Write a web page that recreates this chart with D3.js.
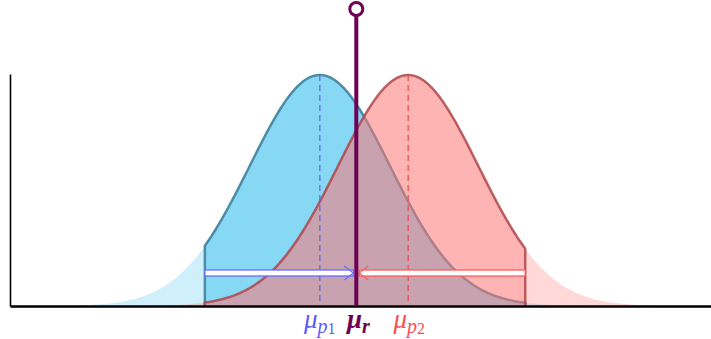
<!DOCTYPE html>
<html>
<head>
<meta charset="utf-8">
<script src="https://cdn.jsdelivr.net/npm/d3@7"></script>
<style>
body { margin: 0; background: #fff; }
svg { display: block; }
.lbl { font-family: "Liberation Serif", "DejaVu Serif", serif; font-style: italic; font-size: 27px; }
</style>
</head>
<body>
<svg id="chart" width="711" height="339"></svg>
<script>
// distributions shown: two proposals and the reference point
let names = ["p1", "p2"];
let means = [4.42, 5.68];
let sigmas = [1.0, 1.0];
let refMean = 4.94;
let windowLimits = [2.78, 7.35];   // clipped region drawn in full colour
let domainX = [0, 10];

let colors = {
	fill: ["rgb(135,216,245)", "rgb(255,116,116)"],
	stroke: ["rgb(78,140,166)", "rgb(175,70,75)"],
	dash: ["#5b63f2", "#e84a4a"],
	label: ["#5a5aff", "#ff4d4d"],
	ref: "#6e0055"
};

let svg = d3.select("#chart");

let x = d3.scaleLinear().domain(domainX).range([10, 711]);
let y = d3.scaleLinear().domain([0, 1]).range([306, 75]);

function density(mu, s) {
	return function(v) { return Math.exp(-(v - mu) * (v - mu) / (2 * s * s)); };
}

function curvePoints(i, a, b) {
	let f = density(means[i], sigmas[i]);
	let pts = d3.range(a, b, 0.02).map(function(v) { return [v, f(v)]; });
	pts.push([b, f(b)]);
	return pts;
}

let area = d3.area()
	.x(function(d) { return x(d[0]); })
	.y0(y(0))
	.y1(function(d) { return y(d[1]); });

// outline: vertical edge, curve, vertical edge
function outline(pts) {
	let p = [[pts[0][0], 0]].concat(pts).concat([[pts[pts.length - 1][0], 0]]);
	return d3.line().x(function(d) { return x(d[0]); }).y(function(d) { return y(d[1]); })(p);
}

// faint full tails
names.forEach(function(n, i) {
	svg.append("path")
		.attr("d", area(curvePoints(i, domainX[0], domainX[1])))
		.attr("fill", colors.fill[i])
		.attr("opacity", i == 0 ? 0.4 : 0.28);
});

// cover tails inside window with white so the strong areas look right
svg.append("rect")
	.attr("x", x(windowLimits[0])).attr("y", 0)
	.attr("width", x(windowLimits[1]) - x(windowLimits[0])).attr("height", y(0))
	.attr("fill", "#fff");

// blue region (opaque)
let p1 = curvePoints(0, windowLimits[0], windowLimits[1]);
svg.append("path").attr("d", area(p1)).attr("fill", colors.fill[0]);
svg.append("path").attr("d", outline(p1))
	.attr("fill", "none").attr("stroke", colors.stroke[0]).attr("stroke-width", 2.5);

// red region (translucent, over the blue)
let p2 = curvePoints(1, windowLimits[0], windowLimits[1]);
svg.append("path").attr("d", area(p2)).attr("fill", colors.fill[1]).attr("opacity", 0.54);
svg.append("path").attr("d", outline(p2))
	.attr("fill", "none").attr("stroke", colors.stroke[1]).attr("stroke-width", 2.5).attr("opacity", 0.85);

// axes (no ticks)
svg.append("g")
	.attr("transform", "translate(" + x(domainX[0]) + ",0)")
	.call(d3.axisLeft(d3.scaleLinear().range([306, 74])).tickValues([]).tickSizeOuter(0))
	.select(".domain").attr("stroke", "#000").attr("stroke-width", 1.6);
svg.append("g")
	.attr("transform", "translate(0," + y(0) + ")")
	.call(d3.axisBottom(x).tickValues([]).tickSizeOuter(0))
	.select(".domain").attr("stroke", "#000").attr("stroke-width", 2.6);

// dashed mean lines
names.forEach(function(n, i) {
	svg.append("line")
		.attr("x1", x(means[i])).attr("x2", x(means[i]))
		.attr("y1", y(1)).attr("y2", y(0) - 2)
		.attr("stroke", colors.dash[i]).attr("stroke-width", 1.2)
		.attr("stroke-dasharray", "6,4");
});

// arrows toward the reference
let arrowY = 273;
function arrow(from, to, col) {
	let dir = to > from ? 1 : -1;
	let x0 = x(from), x1 = x(to) - dir * 3;
	svg.append("rect")
		.attr("x", Math.min(x0, x1)).attr("y", arrowY - 3)
		.attr("width", Math.abs(x1 - x0)).attr("height", 6)
		.attr("fill", "#fff").attr("stroke", col).attr("stroke-width", 1.3);
	svg.append("path")
		.attr("d", "M" + (x1 - dir * 9) + "," + (arrowY - 7) + " L" + x1 + "," + arrowY + " L" + (x1 - dir * 9) + "," + (arrowY + 7))
		.attr("fill", "none").attr("stroke", col).attr("stroke-width", 1.2);
}
arrow(windowLimits[0], refMean, "#6b6bff");
arrow(windowLimits[1], refMean, "#ff5c5c");

// reference line with open circle
svg.append("line")
	.attr("x1", x(refMean)).attr("x2", x(refMean))
	.attr("y1", 15).attr("y2", y(0))
	.attr("stroke", colors.ref).attr("stroke-width", 4);
svg.append("circle")
	.attr("cx", x(refMean)).attr("cy", 9).attr("r", 6.5)
	.attr("fill", "#fff").attr("stroke", colors.ref).attr("stroke-width", 3);

// labels
function label(cx, col, sub, bold) {
	let t = svg.append("text").attr("class", "lbl")
		.attr("x", cx).attr("y", 328).attr("text-anchor", "middle")
		.attr("fill", col);
	if (bold) t.attr("font-weight", "bold");
	t.append("tspan").text("μ");
	t.append("tspan").attr("dy", 5).attr("font-size", "20px").text(sub[0]);
	if (sub.length > 1)
		t.append("tspan").attr("dy", 1).attr("font-size", "16px").attr("font-style", "normal").text(sub[1]);
}
label(x(means[0]), colors.label[0], ["p", "1"], false);
label(x(refMean) + 2, colors.ref, ["r"], true);
label(x(means[1]) + 1, colors.label[1], ["p", "2"], false);
</script>
</body>
</html>
